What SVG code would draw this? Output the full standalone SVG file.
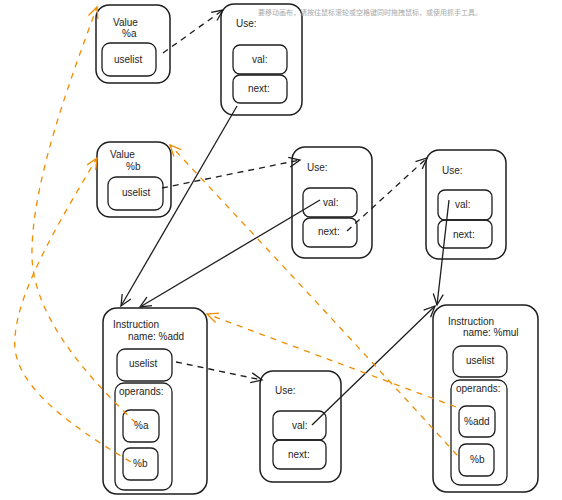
<svg xmlns="http://www.w3.org/2000/svg" width="562" height="500" viewBox="0 0 562 500">
<defs>
<style>
.o{fill:#fff;stroke:#1e1e1e;stroke-width:1.5}
.i{fill:none;stroke:#1e1e1e;stroke-width:1.3}
.t{font-family:"Liberation Sans",Arial,sans-serif;font-size:10px;fill:#1e1e1e}
.s{fill:none;stroke:#1e1e1e;stroke-width:1.3}
.d{fill:none;stroke:#1e1e1e;stroke-width:1.3;stroke-dasharray:6 5}
.g{fill:none;stroke:#f08c00;stroke-width:1.3;stroke-dasharray:6 6}
.toast{font-family:"Noto Sans CJK SC","Noto Sans",sans-serif;font-size:7px;fill:#a8a8a8}
</style>
<marker id="ab" markerWidth="14" markerHeight="14" refX="12" refY="7" orient="auto" markerUnits="userSpaceOnUse"><path d="M1,2 L12,7 L1,12" fill="none" stroke="#1e1e1e" stroke-width="1.3"/></marker>
<marker id="ao" markerWidth="14" markerHeight="14" refX="12" refY="7" orient="auto" markerUnits="userSpaceOnUse"><path d="M1,2 L12,7 L1,12" fill="none" stroke="#f08c00" stroke-width="1.3"/></marker>
</defs>
<rect width="562" height="500" fill="#fff"/>

<g id="value-a">
<rect class="o" x="96" y="5" width="74" height="78" rx="13"/>
<text class="t" x="113" y="26">Value</text>
<text class="t" x="122" y="37">%a</text>
<rect class="i" x="102" y="43" width="54" height="33" rx="8"/>
<text class="t" x="114" y="63">uselist</text>
</g>

<g id="use-1">
<rect class="o" x="221" y="4" width="81" height="111" rx="13"/>
<text class="t" x="236" y="27">Use:</text>
<rect class="i" x="233" y="45" width="54" height="29" rx="7"/>
<text class="t" x="252" y="63">val:</text>
<rect class="i" x="233" y="75" width="54" height="28" rx="7"/>
<text class="t" x="248" y="92">next:</text>
</g>

<g id="value-b">
<rect class="o" x="97" y="142" width="74" height="75" rx="13"/>
<text class="t" x="110" y="158">Value</text>
<text class="t" x="126" y="170">%b</text>
<rect class="i" x="108" y="177" width="55" height="33" rx="8"/>
<text class="t" x="122" y="196">uselist</text>
</g>

<g id="use-2">
<rect class="o" x="292" y="147" width="80" height="111" rx="13"/>
<text class="t" x="307" y="171">Use:</text>
<rect class="i" x="303" y="188" width="54" height="29" rx="7"/>
<text class="t" x="323" y="206">val:</text>
<rect class="i" x="303" y="218" width="54" height="29" rx="7"/>
<text class="t" x="318" y="235">next:</text>
</g>

<g id="use-3">
<rect class="o" x="426" y="150" width="80" height="109" rx="13"/>
<text class="t" x="442" y="174">Use:</text>
<rect class="i" x="438" y="190" width="54" height="30" rx="7"/>
<text class="t" x="455" y="208">val:</text>
<rect class="i" x="438" y="220" width="54" height="28" rx="7"/>
<text class="t" x="453" y="238">next:</text>
</g>

<g id="instr-add">
<rect class="o" x="103" y="308" width="104" height="186" rx="14"/>
<text class="t" x="113" y="328">Instruction</text>
<text class="t" x="128" y="340">name: %add</text>
<rect class="i" x="117" y="349" width="55" height="32" rx="8"/>
<text class="t" x="129" y="367">uselist</text>
<rect class="i" x="115" y="383" width="57" height="107" rx="9"/>
<text class="t" x="119" y="395">operands:</text>
<rect class="i" x="123" y="410" width="36" height="32" rx="7"/>
<text class="t" x="134" y="429">%a</text>
<rect class="i" x="123" y="448" width="35" height="32" rx="7"/>
<text class="t" x="133" y="467">%b</text>
</g>

<g id="use-4">
<rect class="o" x="260" y="371" width="81" height="111" rx="13"/>
<text class="t" x="275" y="394">Use:</text>
<rect class="i" x="273" y="411" width="53" height="29" rx="7"/>
<text class="t" x="292" y="429">val:</text>
<rect class="i" x="273" y="440" width="53" height="29" rx="7"/>
<text class="t" x="288" y="458">next:</text>
</g>

<g id="instr-mul">
<rect class="o" x="433" y="305" width="105" height="187" rx="14"/>
<text class="t" x="448" y="325">Instruction</text>
<text class="t" x="463" y="336">name: %mul</text>
<rect class="i" x="453" y="346" width="54" height="31" rx="8"/>
<text class="t" x="466" y="364">uselist</text>
<rect class="i" x="451" y="380" width="56" height="105" rx="9"/>
<text class="t" x="456" y="392">operands:</text>
<rect class="i" x="459" y="406" width="36" height="31" rx="7"/>
<text class="t" x="464" y="425">%add</text>
<rect class="i" x="459" y="444" width="35" height="32" rx="7"/>
<text class="t" x="470" y="463">%b</text>
</g>

<g id="connectors">
<path class="s" d="M237,106 L121,306" marker-end="url(#ab)"/>
<path class="s" d="M320,200 L140,307" marker-end="url(#ab)"/>
<path class="s" d="M449,200 L437,305" marker-end="url(#ab)"/>
<path class="s" d="M312,425 L435,306" marker-end="url(#ab)"/>
<path class="d" d="M163,53 L223,10" marker-end="url(#ab)"/>
<path class="d" d="M162,188 L300,160" marker-end="url(#ab)"/>
<path class="d" d="M347,231 L427,158" marker-end="url(#ab)"/>
<path class="d" d="M176,362 L262,380" marker-end="url(#ab)"/>
<path class="g" d="M136,423 C80,370 30,310 32,250 C33,180 70,80 97,7" marker-end="url(#ao)"/>
<path class="g" d="M131,462 C60,420 10,380 15,337 C18,290 60,220 97,158" marker-end="url(#ao)"/>
<path class="g" d="M456,407 L207,314" marker-end="url(#ao)"/>
<path class="g" d="M457,455 Q320,305 170,145" marker-end="url(#ao)"/>
</g>

<text class="toast" x="258" y="15">要移动画布，请按住鼠标滚轮或空格键同时拖拽鼠标，或使用抓手工具。</text>
</svg>
